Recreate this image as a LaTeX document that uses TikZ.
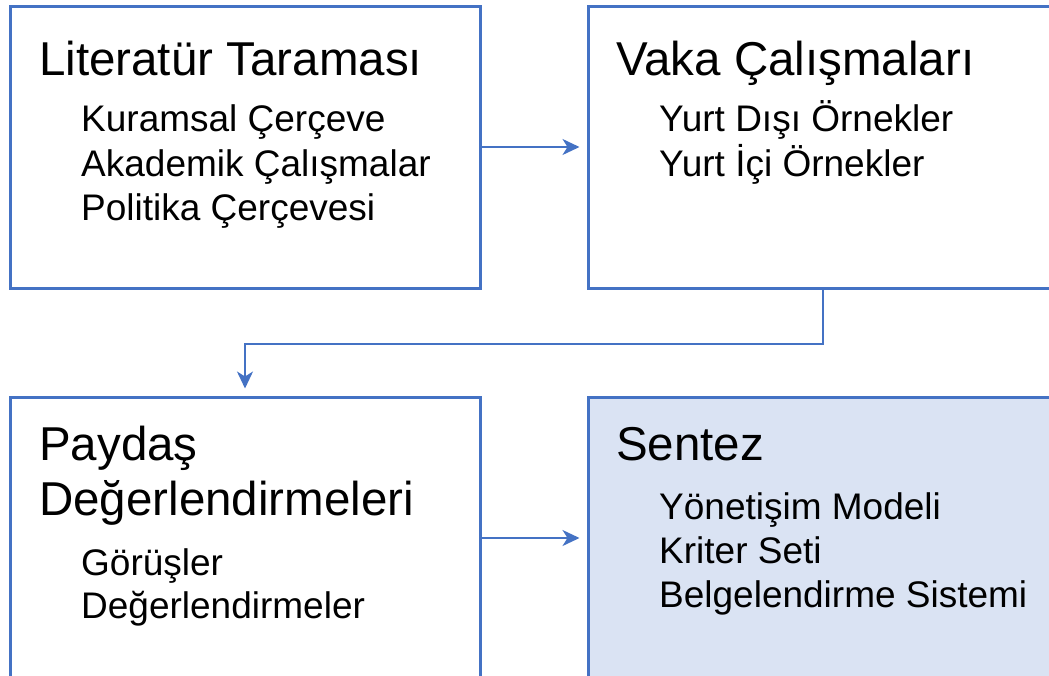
\documentclass[tikz,border=0pt]{standalone}
\usepackage{fontspec}
\setmainfont{Liberation Sans}
\usetikzlibrary{arrows.meta,positioning}

\definecolor{boxblue}{HTML}{4472C4}
\definecolor{fillblue}{HTML}{DAE3F3}

\begin{document}
\begin{tikzpicture}[x=1pt,y=-1pt,>={Stealth[length=17pt,width=16pt,inset=5pt]}]
  \tikzset{box/.style={draw=boxblue,line width=3pt,minimum width=470pt,minimum height=282pt,inner sep=0pt},
    head/.style={font=\fontsize{47.5}{55}\selectfont,anchor=base west,inner sep=0pt},
    item/.style={font=\fontsize{37}{44.5}\selectfont,anchor=base west,inner sep=0pt},
    link/.style={draw=boxblue,line width=2pt,->,shorten >=7pt}}
  \useasboundingbox (0,0) rectangle (1049,675);

  \node[box]                (lit)    at (245,147) {};
  \node[box]                (vaka)   at (823,147) {};
  \node[box]                (paydas) at (245,538) {};
  \node[box,fill=fillblue]  (sentez) at (823,538) {};

  % literatur
  \node[head] (litT)  at (39,75)  {Literatür Taraması};
  \node[item] (lit1)  at (81,131) {Kuramsal Çerçeve};
  \node[item] (lit2)  at (81,176) {Akademik Çalışmalar};
  \node[item] (lit3)  at (81,220) {Politika Çerçevesi};

  % vaka
  \node[head] (vakaT) at (616,75)  {Vaka Çalışmaları};
  \node[item] (vaka1) at (659,131) {Yurt Dışı Örnekler};
  \node[item] (vaka2) at (659,176) {Yurt İçi Örnekler};

  % paydas
  \node[head] (payT1) at (39,460)  {Paydaş};
  \node[head] (payT2) at (39,515)  {Değerlendirmeleri};
  \node[item] (pay1)  at (81,575)  {Görüşler};
  \node[item] (pay2)  at (81,618)  {Değerlendirmeler};

  % sentez
  \node[head] (senT)  at (616,460) {Sentez};
  \node[item] (sen1)  at (659,519) {Yönetişim Modeli};
  \node[item] (sen2)  at (659,563) {Kriter Seti};
  \node[item] (sen3)  at (659,607) {Belgelendirme Sistemi};

  \draw[link] (lit.east) -- (vaka.west);
  \draw[link] (vaka.south) -- ++(0,54) -| (paydas.north);
  \draw[link] (paydas.east) -- (sentez.west);
\end{tikzpicture}
\end{document}
